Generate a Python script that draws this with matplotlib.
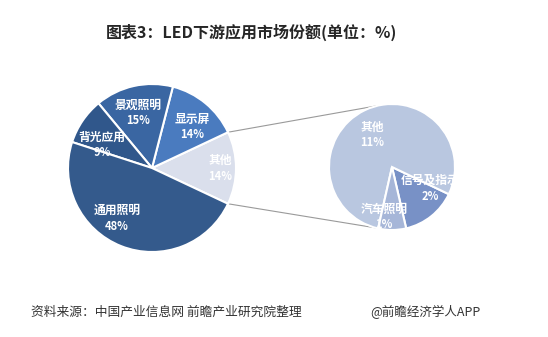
import numpy as np
import matplotlib.pyplot as plt

plt.rcParams['font.family'] = ['Noto Sans CJK SC', 'DejaVu Sans']

# 主饼图数据
labels_main = ['其他', '显示屏', '景观照明', '背光应用', '通用照明']
values_main = [14, 14, 15, 9, 48]
colors_main = ['#DADFEC', '#4A7BBF', '#3A66A2', '#30578B', '#345A8C']

# 子饼图数据（“其他”拆分）
labels_sub = ['信号及指示', '其他', '汽车照明']
values_sub = [2, 11, 1]
colors_sub = ['#7891C6', '#B9C7E0', '#A6B6D8']

W, H = 548, 337
fig = plt.figure(figsize=(W / 100, H / 100), dpi=100)
ax = fig.add_axes([0, 0, 1, 1])

c1, r1 = (152, 169), 84
c2, r2 = (392, 170), 63

# 左饼：“其他”居中于0°
start1 = -values_main[0] / sum(values_main) * 360 / 2
w1, t1 = ax.pie(values_main, colors=colors_main, startangle=start1, counterclock=True,
                center=c1, radius=r1, frame=True,
                wedgeprops=dict(edgecolor='white', linewidth=1.5))

# 右饼
w2, t2 = ax.pie(values_sub, colors=colors_sub, startangle=-77, counterclock=True,
                center=c2, radius=r2, frame=True,
                wedgeprops=dict(edgecolor='white', linewidth=1.5))

# 连接线
a = np.deg2rad(-start1)
for s, ang2 in [(1, 103.5), (-1, -105)]:
    p1 = (c1[0] + r1 * np.cos(a), c1[1] + s * r1 * np.sin(a))
    b = np.deg2rad(ang2)
    p2 = (c2[0] + r2 * np.cos(b), c2[1] + r2 * np.sin(b))
    ax.plot([p1[0], p2[0]], [p1[1], p2[1]], color='#9A9A9A', lw=0.8, zorder=0)

# 标签（像素坐标，y 自上而下）
pos_main = [(220, 160), (192, 119), (138, 105), (102, 137), (117, 210)]
for lab, v, (x, y) in zip(labels_main, values_main, pos_main):
    ax.text(x, H - y, lab, color='white', fontsize=8.5, fontweight='bold', ha='center', va='center')
    ax.text(x, H - y - 16, f'{v}%', color='white', fontsize=8, fontweight='bold', ha='center', va='center')

pos_sub = [(430, 180), (372, 127), (384, 209)]
for lab, v, (x, y) in zip(labels_sub, values_sub, pos_sub):
    ax.text(x, H - y, lab, color='white', fontsize=8.5, fontweight='bold', ha='center', va='center')
    ax.text(x, H - y - 16, f'{v}%', color='white', fontsize=8, fontweight='bold', ha='center', va='center')

ax.text(252, H - 32, '图表3：LED下游应用市场份额(单位：%)', fontsize=11.5, fontweight='bold',
        color='#262626', ha='center', va='center')
ax.text(31, H - 312, '资料来源：中国产业信息网 前瞻产业研究院整理', fontsize=9.2,
        color='#333333', ha='left', va='center')
ax.text(370, H - 312, '@前瞻经济学人APP', fontsize=9, color='#333333', ha='left', va='center')

ax.set_xlim(0, W)
ax.set_ylim(0, H)
ax.set_aspect('auto')
ax.axis('off')

fig.savefig('out.png', dpi=100, facecolor='white')
